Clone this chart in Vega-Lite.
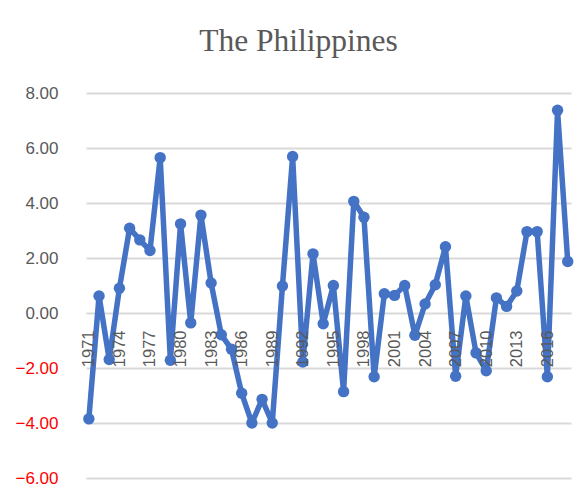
{
  "$schema": "https://vega.github.io/schema/vega-lite/v6.json",
  "autosize": {"type": "none"},
  "width": 485,
  "height": 385,
  "padding": {"left": 86, "top": 93, "right": 9, "bottom": 21},
  "background": "white",
  "title": {
    "text": "The Philippines",
    "font": "Liberation Serif",
    "fontSize": 31.5,
    "fontWeight": "normal",
    "color": "#595959",
    "anchor": "middle",
    "dx": -30,
    "offset": 27
  },
  "config": {"view": {"stroke": null}},
  "data": {
    "values": [
      {"year": 1971, "value": -3.85},
      {"year": 1972, "value": 0.62},
      {"year": 1973, "value": -1.69},
      {"year": 1974, "value": 0.9},
      {"year": 1975, "value": 3.08},
      {"year": 1976, "value": 2.66},
      {"year": 1977, "value": 2.27},
      {"year": 1978, "value": 5.65},
      {"year": 1979, "value": -1.72},
      {"year": 1980, "value": 3.24},
      {"year": 1981, "value": -0.36},
      {"year": 1982, "value": 3.56},
      {"year": 1983, "value": 1.09},
      {"year": 1984, "value": -0.79},
      {"year": 1985, "value": -1.32},
      {"year": 1986, "value": -2.92},
      {"year": 1987, "value": -4.0},
      {"year": 1988, "value": -3.14},
      {"year": 1989, "value": -4.0},
      {"year": 1990, "value": 0.98},
      {"year": 1991, "value": 5.69},
      {"year": 1992, "value": -1.78},
      {"year": 1993, "value": 2.15},
      {"year": 1994, "value": -0.39},
      {"year": 1995, "value": 1.0},
      {"year": 1996, "value": -2.86},
      {"year": 1997, "value": 4.06},
      {"year": 1998, "value": 3.48},
      {"year": 1999, "value": -2.32},
      {"year": 2000, "value": 0.7},
      {"year": 2001, "value": 0.64},
      {"year": 2002, "value": 1.0},
      {"year": 2003, "value": -0.81},
      {"year": 2004, "value": 0.33},
      {"year": 2005, "value": 1.03},
      {"year": 2006, "value": 2.41},
      {"year": 2007, "value": -2.3},
      {"year": 2008, "value": 0.62},
      {"year": 2009, "value": -1.45},
      {"year": 2010, "value": -2.1},
      {"year": 2011, "value": 0.55},
      {"year": 2012, "value": 0.24},
      {"year": 2013, "value": 0.8},
      {"year": 2014, "value": 2.96},
      {"year": 2015, "value": 2.96},
      {"year": 2016, "value": -2.32},
      {"year": 2017, "value": 7.37},
      {"year": 2018, "value": 1.87}
    ]
  },
  "mark": {
    "type": "line",
    "color": "#4472C4",
    "strokeWidth": 5.5,
    "strokeJoin": "round",
    "point": {"filled": true, "size": 130, "color": "#4472C4", "opacity": 1}
  },
  "encoding": {
    "x": {
      "field": "year",
      "type": "quantitative",
      "scale": {"domain": [1970.72, 2018.32], "nice": false, "zero": false},
      "axis": {
        "title": null,
        "values": [1971, 1974, 1977, 1980, 1983, 1986, 1989, 1992, 1995, 1998, 2001, 2004, 2007, 2010, 2013, 2016],
        "format": "d",
        "labelAngle": -90,
        "labelAlign": "right",
        "labelBaseline": "middle",
        "labelPadding": 17,
        "labelFont": "Liberation Sans",
        "labelFontSize": 16.5,
        "labelColor": "#595959",
        "labelOverlap": false,
        "labelFlush": false,
        "domain": false,
        "ticks": false,
        "grid": false,
        "offset": -165,
        "zindex": 1
      }
    },
    "y": {
      "field": "value",
      "type": "quantitative",
      "scale": {"domain": [-6, 8], "nice": false},
      "axis": {
        "title": null,
        "values": [-6, -4, -2, 0, 2, 4, 6, 8],
        "format": ".2f",
        "labelPadding": 28,
        "labelFont": "Liberation Sans",
        "labelFontSize": 17,
        "labelColor": {"condition": {"test": "datum.value < 0", "value": "#FF0000"}, "value": "#595959"},
        "domain": false,
        "ticks": false,
        "grid": true,
        "gridColor": "#D9D9D9",
        "gridWidth": 2,
        "zindex": 0
      }
    }
  }
}
